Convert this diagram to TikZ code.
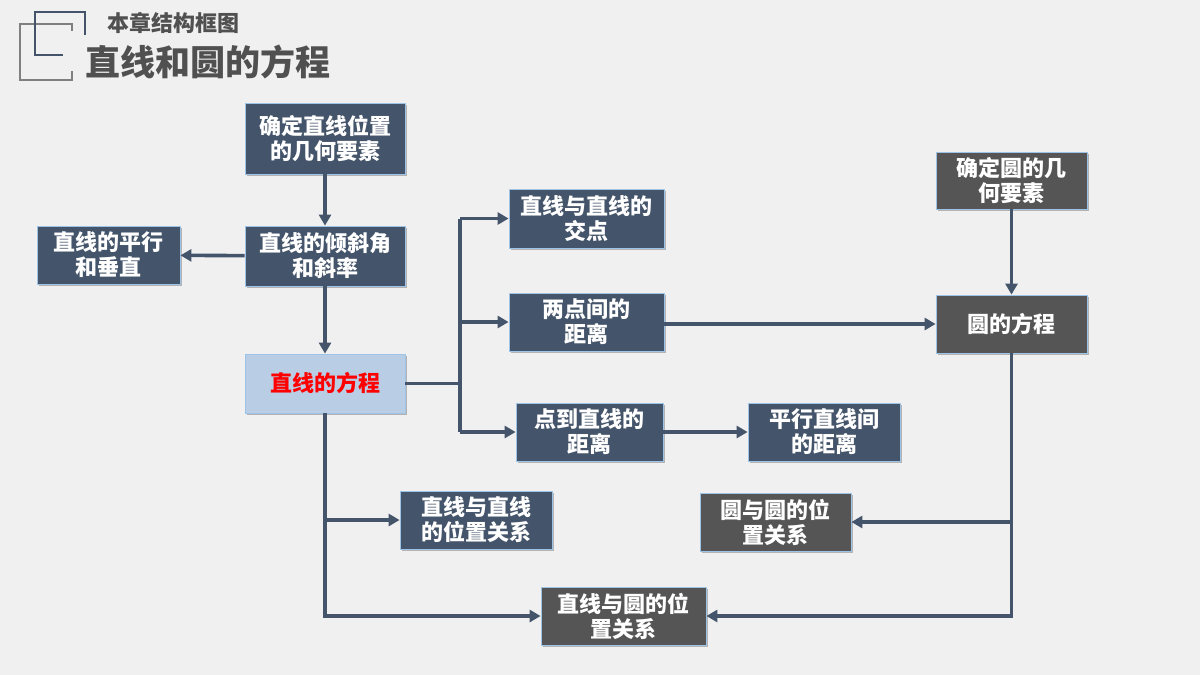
\documentclass[tikz,border=0pt]{standalone}
\usepackage{fontspec}
\setmainfont{Noto Sans CJK SC}
\usetikzlibrary{arrows.meta,shadows}
\definecolor{bg}{HTML}{F0F0F0}
\definecolor{navy}{HTML}{44546A}
\definecolor{dgray}{HTML}{555555}
\definecolor{lblue}{HTML}{B9CDE5}
\definecolor{edge}{HTML}{9DC3E6}
\definecolor{linec}{HTML}{44546A}
\definecolor{titlec}{HTML}{505050}
\definecolor{logogray}{HTML}{7F7F7F}
\tikzset{
  box/.style={draw=edge, line width=0.8pt, text=white, font=\fontsize{22}{25}\selectfont\bfseries,
    align=center, inner sep=0pt,
    drop shadow={shadow xshift=2pt, shadow yshift=-2pt, opacity=0.25, fill=black}},
  navybox/.style={box, fill=navy},
  graybox/.style={box, fill=dgray},
  conn/.style={draw=linec, line width=3.6pt},
  arr/.style={conn, -{Triangle[length=11pt,width=12pt]}},
}
\begin{document}
\begin{tikzpicture}[x=1pt,y=-1pt]
\path[fill=bg] (0,0) rectangle (1200,675);
% logo
\draw[logogray, line width=2.8pt] (72,31) -- (72,24) -- (20,24) -- (20,80) -- (72,80) -- (72,71);
\draw[navy, line width=2.8pt] (85,35) -- (85,12) -- (35,12) -- (35,55) -- (63,55);
\node[anchor=west, text=titlec, font=\fontsize{22}{24}\selectfont\bfseries, inner sep=0pt] (sub) at (107,23) {本章结构框图};
\node[anchor=west, text=titlec, font=\fontsize{35}{37}\selectfont\bfseries, inner sep=0pt] (ttl) at (85,62) {直线和圆的方程};
% nodes
\node[navybox, minimum width=160pt, minimum height=71pt] (A) at (325,138.5) {确定直线位置\\的几何要素};
\node[navybox, minimum width=160pt, minimum height=60pt] (B) at (325,256) {直线的倾斜角\\和斜率};
\node[navybox, minimum width=143pt, minimum height=58pt] (C) at (108.5,255) {直线的平行\\和垂直};
\node[box, fill=lblue, text=red, minimum width=160pt, minimum height=59pt] (D) at (325,383.5) {直线的方程};
\node[navybox, minimum width=155pt, minimum height=59pt] (E) at (586.5,218.5) {直线与直线的\\交点};
\node[navybox, minimum width=155pt, minimum height=58pt] (F) at (586.5,322) {两点间的\\距离};
\node[navybox, minimum width=147pt, minimum height=58pt] (G) at (589.5,432) {点到直线的\\距离};
\node[navybox, minimum width=152pt, minimum height=58pt] (H) at (824,432) {平行直线间\\的距离};
\node[navybox, minimum width=152pt, minimum height=58pt] (I) at (476,520) {直线与直线\\的位置关系};
\node[graybox, minimum width=165pt, minimum height=58pt] (J) at (623.5,616) {直线与圆的位\\置关系};
\node[graybox, minimum width=151pt, minimum height=58pt] (K) at (775.5,522) {圆与圆的位\\置关系};
\node[graybox, minimum width=151pt, minimum height=57pt] (L) at (1011.5,180.5) {确定圆的几\\何要素};
\node[graybox, minimum width=151pt, minimum height=58pt] (M) at (1011.5,324) {圆的方程};
% connectors
\coordinate (tr) at (460,0);
\draw[arr] (A) -- (B);
\draw[arr] (B) -- (C);
\draw[arr] (B) -- (D);
\draw[conn] (D.east) -- (D.east -| tr);
\draw[conn] (E.west -| tr) -- (G.west -| tr);
\draw[arr] (E.west -| tr) -- (E.west);
\draw[arr] (F.west -| tr) -- (F.west);
\draw[arr] (G.west -| tr) -- (G.west);
\draw[arr] (F.east |- M.west) -- (M.west);
\draw[arr] (G) -- (H);
\draw[arr] (L) -- (M);
\draw[arr] (D.south) |- (J.west);
\draw[arr] (D.south |- I.west) -- (I.west);
\draw[arr] (M.south) |- (J.east);
\draw[arr] (M.south |- K.east) -- (K.east);
\end{tikzpicture}
\end{document}
